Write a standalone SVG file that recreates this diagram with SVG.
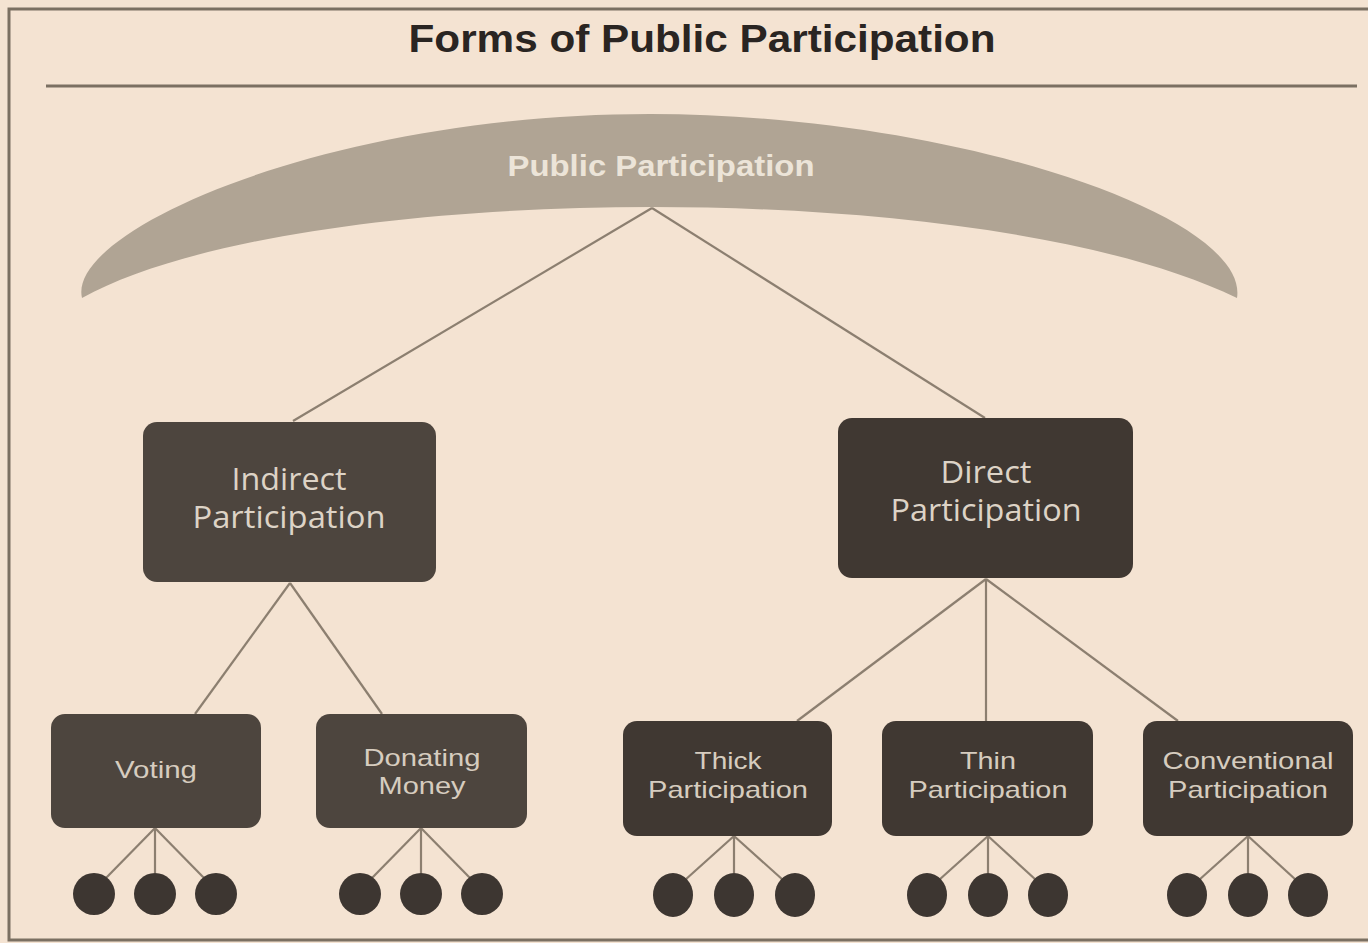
<svg xmlns="http://www.w3.org/2000/svg" width="1368" height="943" viewBox="0 0 1368 943">
<style>
.bg{fill:#f4e3d2}
.frame{fill:none;stroke:#7b7062;stroke-width:3}
.title{font-family:"Liberation Sans",Arial,sans-serif;font-weight:bold;font-size:38px;fill:#2a2522}
.conn line{stroke:#8c7f70;stroke-width:2.2}
.box{fill:#4d453e}
.boxd{fill:#403832}
.lbl{font-family:"Open Sans","Liberation Sans",sans-serif;font-size:31px;fill:#ddd3c6;text-anchor:middle}
.sl{font-family:"Liberation Sans",Arial,sans-serif;font-size:24px;fill:#d6ccbf;text-anchor:middle}
.dot{fill:#3d3631}
</style>
<rect class="bg" x="0" y="0" width="1368" height="943"/>
<rect class="frame" x="9" y="9" width="1370" height="931"/>
<text class="title" x="702" y="52" text-anchor="middle" textLength="587" lengthAdjust="spacingAndGlyphs">Forms of Public Participation</text>
<line x1="46" y1="86" x2="1357" y2="86" stroke="#7b7062" stroke-width="3"/>
<g id="public">
<path d="M82,298 C66,230 330,114 650,114 C950,114 1250,215 1237,298 C1100,232 860,207 652,207 C420,207 190,238 82,298 Z" fill="#b0a494"/>
<text x="661" y="176" text-anchor="middle" font-family="Liberation Sans,Arial,sans-serif" font-weight="bold" font-size="29" fill="#ece4d8" textLength="307" lengthAdjust="spacingAndGlyphs">Public Participation</text>
</g>
<g id="connectors" class="conn">
<line x1="652" y1="208" x2="293" y2="421"/>
<line x1="652" y1="208" x2="985" y2="418"/>
<line x1="290" y1="583" x2="195" y2="714"/>
<line x1="290" y1="583" x2="382" y2="714"/>
<line x1="986" y1="579" x2="797" y2="721"/>
<line x1="986" y1="579" x2="986" y2="721"/>
<line x1="986" y1="579" x2="1178" y2="721"/>
<line x1="155" y1="828" x2="106" y2="878"/>
<line x1="155" y1="828" x2="155" y2="873"/>
<line x1="155" y1="828" x2="204" y2="878"/>
<line x1="421" y1="828" x2="372" y2="878"/>
<line x1="421" y1="828" x2="421" y2="873"/>
<line x1="421" y1="828" x2="470" y2="878"/>
<line x1="734" y1="836" x2="685" y2="880"/>
<line x1="734" y1="836" x2="734" y2="873"/>
<line x1="734" y1="836" x2="783" y2="880"/>
<line x1="988" y1="836" x2="939" y2="880"/>
<line x1="988" y1="836" x2="988" y2="873"/>
<line x1="988" y1="836" x2="1036" y2="880"/>
<line x1="1248" y1="836" x2="1199" y2="880"/>
<line x1="1248" y1="836" x2="1248" y2="873"/>
<line x1="1248" y1="836" x2="1296" y2="880"/>
</g>
<g id="indirect">
<rect class="box" x="143" y="422" width="293" height="160" rx="14"/>
<text class="lbl" x="289" y="490" textLength="115" lengthAdjust="spacingAndGlyphs">Indirect</text>
<text class="lbl" x="289" y="528" textLength="193" lengthAdjust="spacingAndGlyphs">Participation</text>
</g>
<g id="direct">
<rect class="boxd" x="838" y="418" width="295" height="160" rx="14"/>
<text class="lbl" x="986" y="483" textLength="91" lengthAdjust="spacingAndGlyphs">Direct</text>
<text class="lbl" x="986" y="521" textLength="191" lengthAdjust="spacingAndGlyphs">Participation</text>
</g>
<g id="voting">
<rect class="box" x="51" y="714" width="210" height="114" rx="14"/>
<text class="sl" x="156" y="778" textLength="82" lengthAdjust="spacingAndGlyphs">Voting</text>
</g>
<g id="donating">
<rect class="box" x="316" y="714" width="211" height="114" rx="14"/>
<text class="sl" x="422" y="766" textLength="117" lengthAdjust="spacingAndGlyphs">Donating</text>
<text class="sl" x="422" y="794" textLength="87" lengthAdjust="spacingAndGlyphs">Money</text>
</g>
<g id="thick">
<rect class="boxd" x="623" y="721" width="209" height="115" rx="14"/>
<text class="sl" x="728" y="769" textLength="67" lengthAdjust="spacingAndGlyphs">Thick</text>
<text class="sl" x="728" y="798" textLength="160" lengthAdjust="spacingAndGlyphs">Participation</text>
</g>
<g id="thin">
<rect class="boxd" x="882" y="721" width="211" height="115" rx="14"/>
<text class="sl" x="988" y="769" textLength="56" lengthAdjust="spacingAndGlyphs">Thin</text>
<text class="sl" x="988" y="798" textLength="159" lengthAdjust="spacingAndGlyphs">Participation</text>
</g>
<g id="conventional">
<rect class="boxd" x="1143" y="721" width="210" height="115" rx="14"/>
<text class="sl" x="1248" y="769" textLength="171" lengthAdjust="spacingAndGlyphs">Conventional</text>
<text class="sl" x="1248" y="798" textLength="160" lengthAdjust="spacingAndGlyphs">Participation</text>
</g>
<g id="dots">
<circle class="dot" cx="94" cy="894" r="21"/>
<circle class="dot" cx="155" cy="894" r="21"/>
<circle class="dot" cx="216" cy="894" r="21"/>
<circle class="dot" cx="360" cy="894" r="21"/>
<circle class="dot" cx="421" cy="894" r="21"/>
<circle class="dot" cx="482" cy="894" r="21"/>
<ellipse class="dot" cx="673" cy="895" rx="20" ry="22"/>
<ellipse class="dot" cx="734" cy="895" rx="20" ry="22"/>
<ellipse class="dot" cx="795" cy="895" rx="20" ry="22"/>
<ellipse class="dot" cx="927" cy="895" rx="20" ry="22"/>
<ellipse class="dot" cx="988" cy="895" rx="20" ry="22"/>
<ellipse class="dot" cx="1048" cy="895" rx="20" ry="22"/>
<ellipse class="dot" cx="1187" cy="895" rx="20" ry="22"/>
<ellipse class="dot" cx="1248" cy="895" rx="20" ry="22"/>
<ellipse class="dot" cx="1308" cy="895" rx="20" ry="22"/>
</g>
</svg>
